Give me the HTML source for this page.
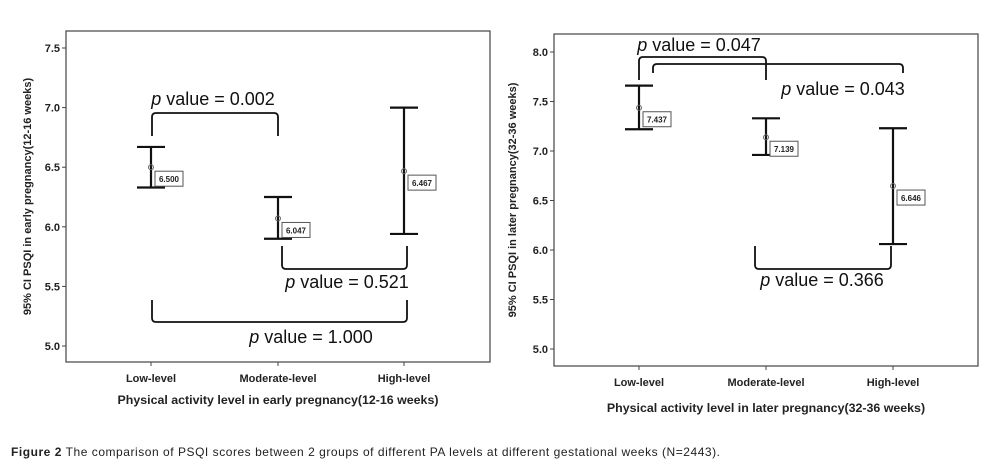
<!DOCTYPE html>
<html><head><meta charset="utf-8"><style>
body{margin:0;background:#fff;width:1008px;height:471px;overflow:hidden;font-family:"Liberation Sans",sans-serif}
</style></head><body>
<svg width="1008" height="471" font-family="Liberation Sans, sans-serif">
<g id="left"></g>
<g id="right"></g>
<text x="11" y="456" font-size="12" fill="#222" textLength="709" lengthAdjust="spacing"><tspan font-weight="bold">Figure 2</tspan> The comparison of PSQI scores between 2 groups of different PA levels at different gestational weeks (N=2443).</text>
</svg>
<script>
const NS="http://www.w3.org/2000/svg";
const categories=["Low-level","Moderate-level","High-level"];
const earlyMeans=[6.500,6.047,6.467];
const earlyPlotted=[6.50,6.07,6.467];
const earlyLower=[6.33,5.90,5.94];
const earlyUpper=[6.67,6.25,7.00];
const earlyTicks=[5.0,5.5,6.0,6.5,7.0,7.5];
const laterMeans=[7.437,7.139,6.646];
const laterLower=[7.22,6.96,6.06];
const laterUpper=[7.66,7.33,7.23];
const laterTicks=[5.0,5.5,6.0,6.5,7.0,7.5,8.0];
const earlyP=["0.002","0.521","1.000"];
const laterP=["0.047","0.043","0.366"];

function mk(p,tag,a,txt){const e=document.createElementNS(NS,tag);for(const k in a)e.setAttribute(k,a[k]);if(txt!=null)e.textContent=txt;p.appendChild(e);return e;}

function chart(g,cfg){
  const {fx0,fx1,fy0,fy1,vMin,vMax,yMin,yMax,xs,means,plotted,lo,hi,ticks,ytitle,xtitle,xtitleY}=cfg;
  const y=v=>yMax+(v-vMax)*(yMin-yMax)/(vMin-vMax);
  const fr=mk(g,'rect',{x:fx0,y:fy0,width:fx1-fx0,height:fy1-fy0,fill:'none',stroke:'#444','stroke-width':1.2});
  
  
  ticks.forEach(t=>{
    mk(g,'line',{x1:fx0-4,x2:fx0,y1:y(t),y2:y(t),stroke:'#444'});
    const tl=mk(g,'text',{x:fx0-6,y:y(t)+4,'text-anchor':'end','font-size':11,'font-weight':'bold',fill:'#222'},t.toFixed(1));
    
    
  });
  categories.forEach((c,i)=>{
    const x=xs[i];
    mk(g,'line',{x1:x,x2:x,y1:fy1,y2:fy1+4,stroke:'#444'});
    const xl=mk(g,'text',{x:x,y:fy1+20,'text-anchor':'middle','font-size':11,'font-weight':'bold',fill:'#222'},c);
    
    
    const eb=mk(g,'g',{});
    
    
    mk(eb,'line',{x1:x,x2:x,y1:y(hi[i]),y2:y(lo[i]),stroke:'#111','stroke-width':2.2});
    mk(eb,'line',{x1:x-14,x2:x+14,y1:y(hi[i]),y2:y(hi[i]),stroke:'#111','stroke-width':2.2});
    mk(eb,'line',{x1:x-14,x2:x+14,y1:y(lo[i]),y2:y(lo[i]),stroke:'#111','stroke-width':2.2});
    mk(eb,'circle',{cx:x,cy:y(plotted[i]),r:2.5,fill:'none',stroke:'#666'});
    const bx=x+4,by=y(plotted[i])+4;
    const lb=mk(g,'g',{});
    
    
    mk(lb,'rect',{x:bx,y:by,width:28,height:15,fill:'#fff',stroke:'#555'});
    mk(lb,'text',{x:bx+14,y:by+11,'text-anchor':'middle','font-size':8,'font-weight':'bold',fill:'#222'},means[i].toFixed(3));
  });
  const yt=mk(g,'text',{transform:`translate(${cfg.ytx},${(fy0+fy1)/2}) rotate(-90)`,'text-anchor':'middle','font-size':11,'font-weight':'bold',fill:'#222'},ytitle);
  
  
  const xt=mk(g,'text',{x:(fx0+fx1)/2,y:xtitleY,'text-anchor':'middle','font-size':12.4,'font-weight':'bold',fill:'#222'},xtitle);
  
  
}
function bracket(g,x1,x2,yA,yB,up,name){
  const r=4,s=up?1:-1;
  const d=`M${x1},${yB} L${x1},${yA+s*r} Q${x1},${yA} ${x1+r},${yA} L${x2-r},${yA} Q${x2},${yA} ${x2},${yA+s*r} L${x2},${yB}`;
  const p=mk(g,'path',{d:d,fill:'none',stroke:'#111','stroke-width':1.8});
  
  
}
function ptext(g,x,y,val,name){
  const t=mk(g,'text',{x:x,y:y,'text-anchor':'middle','font-size':18,fill:'#111'});
  
  
  mk(t,'tspan',{'font-style':'italic'},'p');
  mk(t,'tspan',{},' value = '+val);
}
const L=document.getElementById('left'),R=document.getElementById('right');
chart(L,{fx0:66,fx1:490,fy0:31,fy1:362,vMin:5.0,vMax:7.5,yMin:346,yMax:48,xs:[151,278,404],means:earlyMeans,plotted:earlyPlotted,lo:earlyLower,hi:earlyUpper,ticks:earlyTicks,ytitle:"95% CI PSQI in early pregnancy(12-16 weeks)",xtitle:"Physical activity level in early pregnancy(12-16 weeks)",xtitleY:404,ytx:31});
chart(R,{fx0:554,fx1:978,fy0:34,fy1:366,vMin:5.0,vMax:8.0,yMin:349,yMax:52,xs:[639,766,893],means:laterMeans,plotted:laterMeans,lo:laterLower,hi:laterUpper,ticks:laterTicks,ytitle:"95% CI PSQI in later pregnancy(32-36 weeks)",xtitle:"Physical activity level in later pregnancy(32-36 weeks)",xtitleY:412,ytx:516});
bracket(L,152,278,113,136,true,'bracket-low-moderate');
ptext(L,213,105,earlyP[0],'p-value-low-moderate');
bracket(L,282,407,269,246,false,'bracket-moderate-high');
ptext(L,347,288,earlyP[1],'p-value-moderate-high');
bracket(L,152,407,322,300,false,'bracket-low-high');
ptext(L,311,343,earlyP[2],'p-value-low-high');
bracket(R,639,766,57,80,true,'bracket-low-moderate');
ptext(R,699,51,laterP[0],'p-value-low-moderate');
bracket(R,653,903,64,73,true,'bracket-low-high');
ptext(R,843,95,laterP[1],'p-value-low-high');
bracket(R,755,891,269,246,false,'bracket-moderate-high');
ptext(R,822,286,laterP[2],'p-value-moderate-high');
</script>
</body></html>
